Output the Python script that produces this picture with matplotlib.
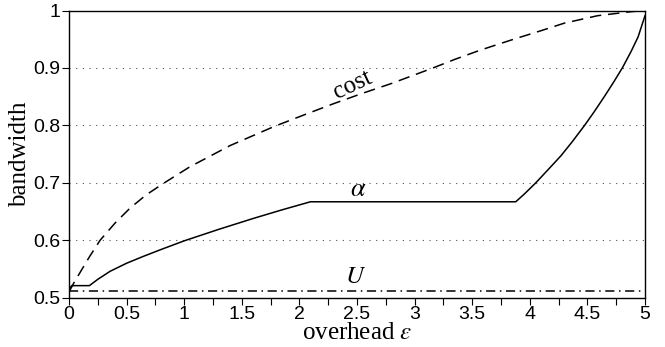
import matplotlib
matplotlib.use("Agg")
import matplotlib.pyplot as plt
from matplotlib.ticker import MultipleLocator

# ---- data ----
cost_x = [0, 0.04, 0.12, 0.18, 0.27, 0.4, 0.53, 0.67, 0.82, 1.05, 1.4, 1.78, 2.05, 2.3, 2.55, 2.8,
          3.16, 3.35, 3.57, 3.86, 4.1, 4.3, 4.59, 4.88, 5.0]
cost_y = [0.510, 0.525, 0.552, 0.572, 0.600, 0.630, 0.656, 0.679, 0.699, 0.728, 0.765, 0.798, 0.819,
          0.838, 0.856, 0.873, 0.900, 0.915, 0.931, 0.950, 0.965, 0.978, 0.991, 0.998, 1.000]

alpha_x = [0, 0.023, 0.177, 0.25, 0.357, 0.5, 0.646, 0.8, 1.0, 1.3, 1.6, 1.85, 2.096,
           3.878, 3.95, 4.052, 4.15, 4.27, 4.37, 4.472, 4.56, 4.65, 4.73, 4.806, 4.88, 4.94, 5.0]
alpha_y = [0.514, 0.521, 0.521, 0.532, 0.546, 0.560, 0.572, 0.584, 0.599, 0.619, 0.638, 0.653, 0.667,
           0.667, 0.680, 0.700, 0.721, 0.747, 0.772, 0.799, 0.824, 0.851, 0.876, 0.901, 0.929, 0.954,
           0.991]

u_x = [0, 5]
u_y = [0.5115, 0.5115]

xticks = [0, 0.5, 1, 1.5, 2, 2.5, 3, 3.5, 4, 4.5, 5]
xticklabels = ['0', '0.5', '1', '1.5', '2', '2.5', '3', '3.5', '4', '4.5', '5']
yticks = [0.5, 0.6, 0.7, 0.8, 0.9, 1.0]
yticklabels = ['0.5', '0.6', '0.7', '0.8', '0.9', '1']
grid_y = [0.6, 0.7, 0.8, 0.9]

# ---- figure ----
plt.rcParams['mathtext.fontset'] = 'stix'
fig = plt.figure(figsize=(6.65, 3.47), dpi=100)
ax = fig.add_axes([69/665, 1 - 297.7/347, (645 - 69)/665, (297.7 - 10.5)/347])

for gy in grid_y:
    ax.axhline(gy, color='#555555', lw=0.8, linestyle=(0, (1, 5)), zorder=1)

ax.plot(cost_x, cost_y, color='black', lw=1.1, linestyle=(0, (7.5, 4.5)), zorder=3)
ax.plot(alpha_x, alpha_y, color='black', lw=1.1, zorder=3)
ax.plot(u_x, u_y, color='black', lw=1.1, linestyle=(0, (6, 3, 1, 3)), zorder=3)

ax.text(2.46, 0.870, 'cost', family='Liberation Serif', fontsize=18, rotation=25,
        ha='center', va='center')
ax.text(2.507, 0.690, r'$\alpha$', fontsize=19, ha='center', va='center')
ax.text(2.49, 0.537, r'$U$', fontsize=18, ha='center', va='center')

ax.set_xlim(0, 5)
ax.set_ylim(0.5, 1.0)
ax.set_xticks(xticks)
ax.set_xticklabels(xticklabels)
ax.xaxis.set_minor_locator(MultipleLocator(0.25))
ax.set_yticks(yticks)
ax.set_yticklabels(yticklabels)

for lab in ax.get_xticklabels() + ax.get_yticklabels():
    lab.set_family('Liberation Sans')
    lab.set_fontsize(14)

ax.tick_params(axis='both', which='both', direction='out', length=5, width=0.8, pad=1,
               top=False, right=False)
for sp in ax.spines.values():
    sp.set_linewidth(1.0)

ax.set_xlabel(r'overhead $\varepsilon$', family='Liberation Serif', fontsize=18, labelpad=-1)
ax.set_ylabel('bandwidth', family='Liberation Serif', fontsize=18, labelpad=2)

fig.savefig('out.png', dpi=100)
